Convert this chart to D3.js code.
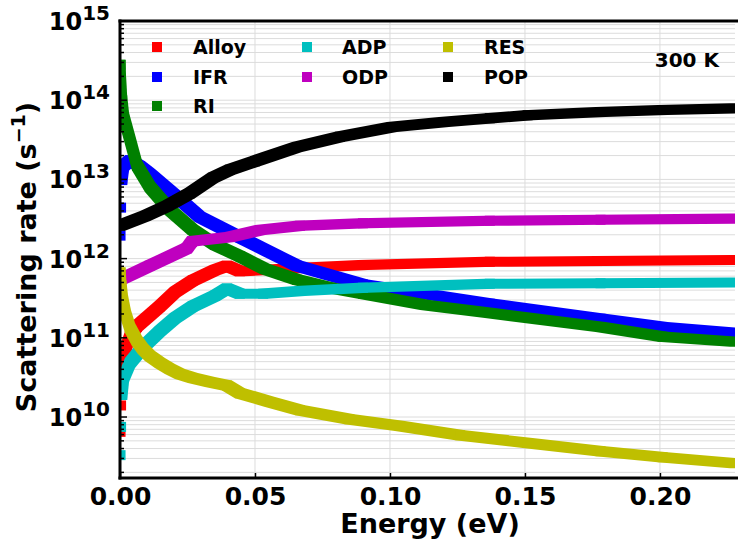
<!DOCTYPE html>
<html>
<head>
<meta charset="utf-8">
<script src="https://cdn.jsdelivr.net/npm/d3@7"></script>
<style>
  body { margin: 0; background: #fff; }
  text { font-family: "DejaVu Sans", sans-serif; font-weight: bold; fill: #000; }
</style>
</head>
<body>
<div id="chart"></div>
<script>
// [energy (eV), scattering rate (1/s)]
const alloy = [[0.0002, 6.5e9], [0.0004, 1.4e10], [0.0008, 4.9e10], [0.0019, 7e10], [0.0037, 1.05e11],
  [0.0063, 1.4e11], [0.0148, 2.5e11], [0.0204, 3.8e11], [0.027, 5.3e11], [0.0352, 7.2e11],
  [0.0396, 8.1e11], [0.0444, 6.9e11], [0.053, 7.2e11], [0.0667, 7.6e11], [0.09, 8.3e11],
  [0.137, 9.1e11], [0.178, 9.3e11], [0.2278, 9.6e11]];
const ifr = [[0.0002, 1.95e12], [0.0004, 4.4e12], [0.0008, 9.8e12], [0.0015, 1.5e13], [0.0037, 1.75e13],
  [0.0074, 1.47e13], [0.0111, 1.17e13], [0.0211, 6e12], [0.0296, 3.35e12], [0.0444, 1.86e12],
  [0.0656, 8.1e11], [0.09, 4.7e11], [0.137, 2.7e11], [0.178, 1.74e11], [0.201, 1.37e11],
  [0.2278, 1.15e11]];
const ri = [[0.0002, 2.8e14], [0.0004, 1.7e14], [0.0008, 1e14], [0.0015, 6e13], [0.0037, 3.2e13],
  [0.0063, 1.5e13], [0.0111, 8e12], [0.0185, 4.1e12], [0.027, 2.3e12], [0.0352, 1.5e12],
  [0.0444, 1.07e12], [0.0537, 7.4e11], [0.0656, 5.4e11], [0.0778, 4.3e11], [0.09, 3.6e11],
  [0.113, 2.6e11], [0.137, 2.05e11], [0.178, 1.37e11], [0.201, 1.03e11], [0.2278, 8.9e10]];
const adp = [[0.0002, 3.3e9], [0.0004, 7.5e9], [0.0008, 1.9e10], [0.0015, 3.2e10], [0.0037, 4.8e10],
  [0.0085, 7.6e10], [0.0148, 1.22e11], [0.0204, 1.78e11], [0.027, 2.5e11], [0.0352, 3.4e11],
  [0.0396, 4.2e11], [0.0444, 3.6e11], [0.053, 3.6e11], [0.0667, 3.9e11], [0.09, 4.3e11],
  [0.137, 4.8e11], [0.178, 4.9e11], [0.2278, 5.0e11]];
const odp = [[0, 5.4e11], [0.011, 8.1e11], [0.0248, 1.35e12], [0.0267, 1.66e12], [0.0407, 1.87e12],
  [0.0519, 2.3e12], [0.0667, 2.6e12], [0.09, 2.8e12], [0.137, 3.0e12], [0.178, 3.1e12],
  [0.2278, 3.2e12]];
const res = [[0.0002, 6.7e11], [0.0005, 4.6e11], [0.0011, 3e11], [0.0022, 1.94e11], [0.0037, 1.33e11],
  [0.0063, 9.1e10], [0.0085, 7.2e10], [0.0111, 5.9e10], [0.0148, 4.8e10], [0.0185, 4.05e10],
  [0.0222, 3.5e10], [0.027, 3.1e10], [0.0333, 2.77e10], [0.0396, 2.5e10], [0.0444, 2e10],
  [0.0556, 1.55e10], [0.0667, 1.22e10], [0.085, 9.4e9], [0.1037, 7.7e9], [0.126, 5.9e9],
  [0.151, 4.7e9], [0.178, 3.7e9], [0.201, 3.1e9], [0.2278, 2.6e9]];
const pop = [[0, 2.6e12], [0.0093, 3.45e12], [0.0174, 4.6e12], [0.0259, 6.7e12], [0.0344, 1.05e13],
  [0.0407, 1.32e13], [0.05, 1.7e13], [0.0656, 2.57e13], [0.0815, 3.45e13], [0.1007, 4.6e13],
  [0.12, 5.3e13], [0.137, 5.9e13], [0.151, 6.45e13], [0.178, 7.1e13], [0.201, 7.5e13],
  [0.2278, 7.9e13]];

const seriesNames = ['Alloy', 'IFR', 'RI', 'ADP', 'ODP', 'RES', 'POP'];
const seriesData = [alloy, ifr, ri, adp, odp, res, pop];
const seriesColors = ['#ff0000', '#0000ff', '#008000', '#00bfbf', '#bf00bf', '#bfbf00', '#000000'];
// first points near E=0 stand as separate squares
const looseStart = [2, 2, 0, 2, 0, 0, 0];

const xTicks = [0, 0.05, 0.10, 0.15, 0.20];
const yExponents = [10, 11, 12, 13, 14, 15];

const margin = {top: 21, right: 3, bottom: 70, left: 120};
const width = 738 - margin.left - margin.right;
const height = 548 - margin.top - margin.bottom;

const svg = d3.select('#chart')
  .append('svg')
  .attr('width', 738)
  .attr('height', 548);

const g = svg.append('g')
  .attr('transform', `translate(${margin.left},${margin.top})`);

const x = d3.scaleLinear().domain([0, 0.2278]).range([0, width]);
const y = d3.scaleLog().domain([Math.pow(10, 9.23), 1e15]).range([height, 0]);

// major + minor log positions inside the domain
const yMinor = [];
for (let e = 9; e < 15; e++) {
  for (let k = 2; k <= 9; k++) {
    const v = k * Math.pow(10, e);
    if (v >= y.domain()[0] && v <= y.domain()[1]) yMinor.push(v);
  }
}
const yMajor = yExponents.map(e => Math.pow(10, e));

// grid
g.selectAll('.hgrid')
  .data(yMajor.concat(yMinor))
  .join('line')
  .attr('class', 'hgrid')
  .attr('x1', 0).attr('x2', width)
  .attr('y1', d => y(d)).attr('y2', d => y(d))
  .attr('stroke', '#dcdcdc')
  .attr('stroke-width', 1);

g.selectAll('.vgrid')
  .data(xTicks.slice(1))
  .join('line')
  .attr('class', 'vgrid')
  .attr('x1', d => x(d)).attr('x2', d => x(d))
  .attr('y1', 0).attr('y2', height)
  .attr('stroke', '#dcdcdc')
  .attr('stroke-width', 1);

// clip for the data
svg.append('defs').append('clipPath')
  .attr('id', 'plot-clip')
  .append('rect')
  .attr('width', width)
  .attr('height', height);

const plot = g.append('g').attr('clip-path', 'url(#plot-clip)');

// square markers swept between neighbouring points: hull of the two squares
const h = 5;
function squareCorners(p) {
  const px = x(p[0]), py = y(p[1]);
  return [[px - h, py - h], [px + h, py - h], [px + h, py + h], [px - h, py + h]];
}

seriesData.forEach((data, i) => {
  const s = plot.append('g').attr('class', 'series').attr('fill', seriesColors[i]);
  const segs = d3.pairs(data.slice(looseStart[i]));
  s.selectAll('path')
    .data(segs)
    .join('path')
    .attr('d', d => 'M' + d3.polygonHull(squareCorners(d[0]).concat(squareCorners(d[1]))).join('L') + 'Z');
  s.selectAll('rect')
    .data(data.slice(0, looseStart[i] + 1))
    .join('rect')
    .attr('x', d => x(d[0]) - h)
    .attr('y', d => y(d[1]) - h)
    .attr('width', 2 * h)
    .attr('height', 2 * h);
});

// x axis
const xAxis = d3.axisBottom(x)
  .tickValues(xTicks)
  .tickFormat(d3.format('.2f'))
  .tickSizeInner(-5)
  .tickSizeOuter(0)
  .tickPadding(9);

const xg = g.append('g')
  .attr('transform', `translate(0,${height})`)
  .call(xAxis);
xg.select('.domain').remove();
xg.selectAll('line').attr('stroke', '#000').attr('stroke-width', 1.5);
xg.selectAll('text')
  .style('font-family', '"DejaVu Sans"')
  .style('font-weight', 'bold')
  .style('font-size', '25px');

// y ticks, inward
g.selectAll('.ymajor')
  .data(yMajor)
  .join('line')
  .attr('x1', 0).attr('x2', 7)
  .attr('y1', d => y(d)).attr('y2', d => y(d))
  .attr('stroke', '#000').attr('stroke-width', 1.5);
g.selectAll('.yminor')
  .data(yMinor)
  .join('line')
  .attr('x1', 0).attr('x2', 4)
  .attr('y1', d => y(d)).attr('y2', d => y(d))
  .attr('stroke', '#000').attr('stroke-width', 1.5);

// y tick labels 10^n
const yLabels = g.selectAll('.ylab')
  .data(yExponents)
  .join('text')
  .attr('class', 'ylab')
  .attr('x', -10)
  .attr('y', d => y(Math.pow(10, d)) + 9)
  .attr('text-anchor', 'end');
yLabels.append('tspan').style('font-size', '24px').text('10');
yLabels.append('tspan').attr('dy', -10).style('font-size', '20px').text(d => d);

// spines
g.append('line').attr('x1', 0).attr('x2', 0).attr('y1', -1.5).attr('y2', height + 1.5)
  .attr('stroke', '#000').attr('stroke-width', 3);
g.append('line').attr('x1', -1.5).attr('x2', width + 3).attr('y1', height).attr('y2', height)
  .attr('stroke', '#000').attr('stroke-width', 3);
g.append('line').attr('x1', -1.5).attr('x2', width + 3).attr('y1', 0).attr('y2', 0)
  .attr('stroke', '#000').attr('stroke-width', 3);

// axis labels
svg.append('text')
  .attr('x', 430)
  .attr('y', 533)
  .attr('text-anchor', 'middle')
  .style('font-size', '27px')
  .text('Energy (eV)');

const yl = svg.append('text')
  .attr('transform', 'rotate(-90)')
  .attr('x', -257)
  .attr('y', 36)
  .attr('text-anchor', 'middle')
  .style('font-size', '27px');
yl.append('tspan').text('Scattering rate (s');
yl.append('tspan').attr('dy', -11).style('font-size', '19px').text('\u22121');
yl.append('tspan').attr('dy', 11).text(')');

// legend, three columns filled top to bottom
const legendCols = [[0, 1, 2], [3, 4], [5, 6]];
const colX = [157, 307, 448];
const textX = [193, 342, 484];
const rowY = [47, 77, 106];
const legend = svg.append('g').attr('class', 'legend');
legendCols.forEach((col, ci) => {
  col.forEach((si, ri) => {
    legend.append('rect')
      .attr('x', colX[ci] - 5)
      .attr('y', rowY[ri] - 5)
      .attr('width', 10)
      .attr('height', 10)
      .attr('fill', seriesColors[si]);
    legend.append('text')
      .attr('x', textX[ci])
      .attr('y', rowY[ri] + 7)
      .style('font-size', '19px')
      .text(seriesNames[si]);
  });
});

svg.append('text')
  .attr('x', 719)
  .attr('y', 67)
  .attr('text-anchor', 'end')
  .style('font-size', '20px')
  .text('300 K');
</script>
</body>
</html>
